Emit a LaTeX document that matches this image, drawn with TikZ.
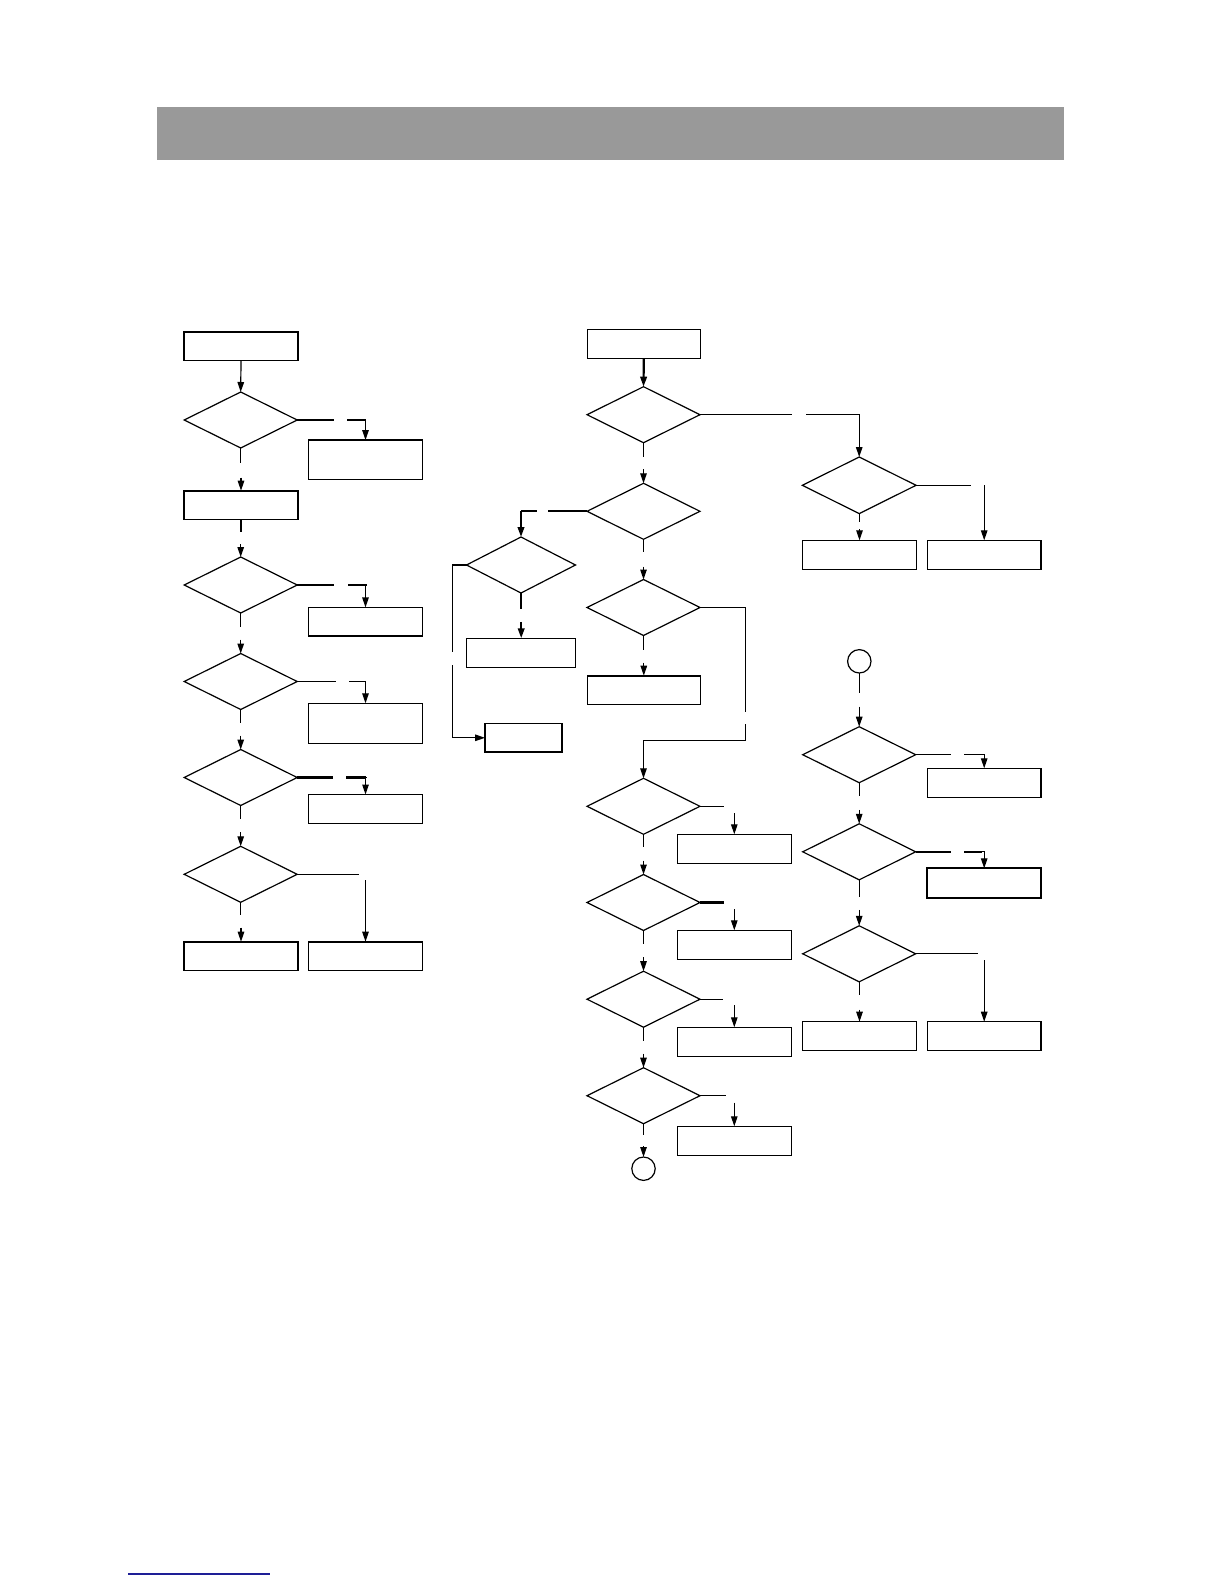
\documentclass[tikz,border=0pt]{standalone}
\usetikzlibrary{shapes.geometric,arrows.meta}
\definecolor{barfill}{RGB}{153,153,153}
\definecolor{linkblue}{RGB}{30,30,150}
\begin{document}
\begin{tikzpicture}[x=1pt,y=-1pt,
  line width=1.2pt,
  thickline/.style={line width=2.2pt},
  edgeline/.style={line width=1.9pt},
  arr/.style={-{Triangle[length=10pt,width=6.5pt]}},
  box/.style={draw,rectangle,minimum width=114pt,minimum height=28.6pt,inner sep=0pt,outer sep=0pt},
  tallbox/.style={box,minimum height=39.5pt},
  dia/.style={draw,diamond,minimum width=113pt,minimum height=56pt,inner sep=0pt,outer sep=0pt},
  conn/.style={draw,circle,minimum size=23.4pt,inner sep=0pt,outer sep=0pt}]
\useasboundingbox (0,0) rectangle (1224,1584);
% header bar and footer line
\fill[barfill] (157,107) rectangle (1064,160);
\draw[linkblue,line width=1.6pt] (128,1574) -- (270,1574);

% ---------------- left column ----------------
\node[box]      (A)  at (241,346) {};
\node[dia]      (d1) at (240.7,420) {};
\node[tallbox]  (B)  at (365.5,459.8) {};
\node[box]      (C)  at (241,505) {};
\node[dia]      (d2) at (240.7,585) {};
\node[box]      (D)  at (365.5,621.7) {};
\node[dia]      (d3) at (240.7,681.5) {};
\node[tallbox,minimum height=40pt] (E) at (365.5,723.3) {};
\node[dia]      (d4) at (240.7,777.5) {};
\node[box]      (F)  at (365.5,808.8) {};
\node[dia]      (d5) at (240.7,874.3) {};
\node[box]      (G)  at (241,956) {};
\node[box]      (H)  at (365.5,956) {};

\draw[arr] (A.south) -- (d1.north);
\draw (d1.east) -- ++(37,0);
\draw[arr] (d1.east) ++(50,0) -| (B.north);
\draw (d1.south) -- ++(0,15);
\draw[arr] ([yshift=13pt]C.north) -- (C.north);
\draw (C.south) -- ++(0,12.5);
\draw[arr] ([yshift=13pt]d2.north) -- (d2.north);
\draw[thickline] (d2.east) -- ++(37,0);
\draw[thickline] (d2.east) ++(51,0) -- ++(17.5,0);
\draw[arr] (d2.east) ++(68.5,0) -| (D.north);
\draw (d2.south) -- ++(0,14);
\draw[arr] ([yshift=14pt]d3.north) -- (d3.north);
\draw (d3.east) -- ++(38.5,0);
\draw[arr] (d3.east) ++(52,0) -| (E.north);
\draw (d3.south) -- ++(0,13);
\draw[arr] ([yshift=14pt]d4.north) -- (d4.north);
\draw[thickline] (d4.east) -- ++(35.5,0);
\draw[thickline] (d4.east) ++(49,0) -- ++(19.5,0);
\draw[arr] (d4.east) ++(68.5,0) -| (F.north);
\draw (d4.south) -- ++(0,13.5);
\draw[arr] ([yshift=14pt]d5.north) -- (d5.north);
\draw (d5.east) -- ++(62,0);
\draw[arr] ([yshift=61.7pt]H.north) -- (H.north);
\draw (d5.south) -- ++(0,12.6);
\draw[arr] ([yshift=14pt]G.north) -- (G.north);

% ---------------- middle column ----------------
\node[box,minimum width=113pt,minimum height=29pt] (M1) at (643.8,343.8) {};
\node[dia]  (m1) at (643.5,414.7) {};
\node[dia]  (m2) at (643.5,511.3) {};
\node[dia,minimum width=109pt] (L1d) at (521,565) {};
\node[box,minimum width=109pt,minimum height=29pt] (L1b) at (521.2,652.8) {};
\node[box,minimum width=77.3pt,minimum height=29pt] (L2) at (523.7,737.8) {};
\node[dia]  (m3) at (643.5,607.5) {};
\node[box,minimum width=113pt] (M2) at (643.8,690) {};
\node[dia]  (m4) at (643.5,806.3) {};
\node[box,minimum height=29pt] (M4r) at (734.3,848.8) {};
\node[dia]  (m5) at (643.5,902.5) {};
\node[box,minimum height=29pt] (M5r) at (734.3,944.8) {};
\node[dia]  (m6) at (643.5,999.2) {};
\node[box,minimum height=29pt] (M6r) at (734.3,1041.8) {};
\node[dia]  (m7) at (643.5,1095.7) {};
\node[box,minimum height=29pt] (M7r) at (734.3,1140.8) {};
\node[conn] (c1) at (643.5,1168.7) {};

\draw[arr,thickline] (M1.south) -- (m1.north);
\draw (m1.east) -- ++(92,0);
\draw (m1.south) -- ++(0,14);
\draw[arr] ([yshift=14pt]m2.north) -- (m2.north);
\draw[thickline] (m2.west) -- ++(-38.7,0);
\draw[thickline] (m2.west) ++(-50.3,0) -- ++(-15.7,0);
\draw[arr,thickline] (m2.west) ++(-66,0) -| (L1d.north);
\draw[thickline] (L1d.south) -- ++(0,16);
\draw[arr,thickline] ([yshift=16.5pt]L1b.north) -- (L1b.north);
\draw (L1d.west) -- ++(-14.2,0) -- ++(0,86.7);
\draw[arr] (L1d.west) ++(-14.2,100) |- (L2.west);
\draw (m2.south) -- ++(0,13);
\draw[arr] ([yshift=13pt]m3.north) -- (m3.north);
\draw (m3.east) -- ++(45.5,0) -- ++(0,104.2);
\draw[arr] (m3.east) ++(45.5,116.5) -- ++(0,16.5) -| (m4.north);
\draw (m3.south) -- ++(0,14.3);
\draw[arr] ([yshift=13pt]M2.north) -- (M2.north);
\draw (m4.east) -- ++(23.6,0);
\draw[arr] ([yshift=21pt]M4r.north) -- (M4r.north);
\draw (m4.south) -- ++(0,13);
\draw[arr] ([yshift=14pt]m5.north) -- (m5.north);
\draw[thickline] (m5.east) -- ++(23.6,0);
\draw[arr] ([yshift=21pt]M5r.north) -- (M5r.north);
\draw (m5.south) -- ++(0,13.3);
\draw[arr] ([yshift=14pt]m6.north) -- (m6.north);
\draw (m6.east) -- ++(23,0);
\draw[arr] ([yshift=22.3pt]M6r.north) -- (M6r.north);
\draw (m6.south) -- ++(0,13.4);
\draw[arr] ([yshift=14pt]m7.north) -- (m7.north);
\draw (m7.east) -- ++(25.5,0);
\draw[arr] ([yshift=23.6pt]M7r.north) -- (M7r.north);
\draw (m7.south) -- ++(0,11);
\draw[arr] ([yshift=11pt]c1.north) -- (c1.north);

% ---------------- right column ----------------
\node[dia,minimum width=113.7pt,minimum height=56.6pt] (r1) at (859.2,485.3) {};
\node[box,minimum height=29pt] (R1) at (859.5,554.8) {};
\node[box,minimum width=113.7pt,minimum height=29pt] (R2) at (984.2,554.8) {};
\node[conn] (c2) at (859.3,661.3) {};
\node[dia]  (r2) at (859.2,754.7) {};
\node[box,minimum width=113.7pt,minimum height=29pt] (R3) at (984.2,782.8) {};
\node[dia]  (r3) at (859.2,851.8) {};
\node[box,minimum width=113.7pt,minimum height=29.4pt,thickline] (R4) at (984.2,883) {};
\node[dia]  (r4) at (859.2,953.8) {};
\node[box,minimum height=29pt] (R5) at (859.5,1036.2) {};
\node[box,minimum width=113.7pt,minimum height=29pt] (R6) at (984.2,1036.2) {};

\draw[arr] (m1.east) ++(106,0) -| (r1.north);
\draw (r1.east) -- ++(54.7,0);
\draw[arr] ([yshift=55pt]R2.north) -- (R2.north);
\draw (r1.south) -- ++(0,8.4);
\draw[arr] ([yshift=11pt]R1.north) -- (R1.north);
\draw (c2.south) -- ++(0,19.7);
\draw[arr] ([yshift=20pt]r2.north) -- (r2.north);
\draw (r2.east) -- ++(35,0);
\draw[arr] (r2.east) ++(48.3,0) -| (R3.north);
\draw (r2.south) -- ++(0,13.3);
\draw[arr] ([yshift=14pt]r3.north) -- (r3.north);
\draw[thickline] (r3.east) -- ++(35,0);
\draw[thickline] (r3.east) ++(48.3,0) -- ++(18,0);
\draw[arr] (r3.east) ++(66.3,0) -| (R4.north);
\draw (r3.south) -- ++(0,16.7);
\draw[arr] ([yshift=16pt]r4.north) -- (r4.north);
\draw (r4.east) -- ++(62.3,0);
\draw[arr] ([yshift=61.7pt]R6.north) -- (R6.north);
\draw (r4.south) -- ++(0,13);
\draw[arr] ([yshift=12pt]R5.north) -- (R5.north);

% heavier edges seen on some boxes
\foreach \b in {A,B,C,G,H,M2}
  \draw[edgeline] (\b.north west) -- (\b.north east);
\draw[edgeline] (L2.north east) -- (L2.south east) -- (L2.south west);
\foreach \b in {R2,R3}
  \draw[edgeline] (\b.north east) -- (\b.south east);
\end{tikzpicture}
\end{document}
